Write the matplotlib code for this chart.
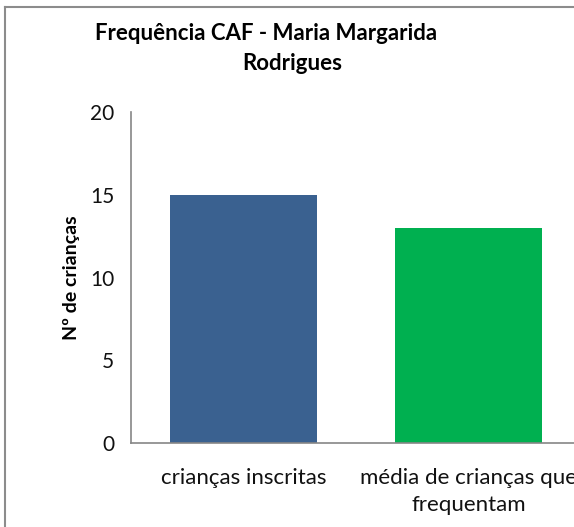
import matplotlib.pyplot as plt
from matplotlib.lines import Line2D

# data
categories = ['crianças inscritas', 'média de crianças que\nfrequentam']
values = [15, 13]
colors = ['#3A6190', '#00B050']
y_ticks = [0, 5, 10, 15, 20]

plt.rcParams['font.family'] = ['Lato', 'DejaVu Sans']

W, H = 574, 527
fig = plt.figure(figsize=(W / 100, H / 100), dpi=100, facecolor='white')

# chart border: only top and left edges are visible in the original
bx, by = 5 / W, 1 - 6.5 / H
fig.lines.append(Line2D([bx, 1.0], [by, by], transform=fig.transFigure,
                        color='#8C8C8C', linewidth=1.5))
fig.lines.append(Line2D([bx, bx], [0, by], transform=fig.transFigure,
                        color='#8C8C8C', linewidth=1.5))

ax = fig.add_axes([131 / W, (H - 443) / H, 450 / W, (443 - 112) / H])
ax.bar(range(len(values)), values, width=0.65, color=colors)
ax.set_xlim(-0.5, 1.5)
ax.set_ylim(0, 20)
ax.set_yticks(y_ticks)
ax.set_xticks(range(len(categories)))
ax.set_xticklabels(categories, fontsize=16, linespacing=1.45)
ax.tick_params(axis='y', length=0, labelsize=15, colors='#111111', pad=12)
ax.tick_params(axis='x', length=0, colors='#111111', pad=18)
for s in ['top', 'right']:
    ax.spines[s].set_visible(False)
for s in ['left', 'bottom']:
    ax.spines[s].set_color('#868686')
    ax.spines[s].set_linewidth(1.2)
ax.set_ylabel('Nº de crianças', fontsize=14, fontweight='bold', labelpad=7)

fig.text(266 / W, 1 - 33 / H, 'Frequência CAF - Maria Margarida',
         ha='center', va='center', fontsize=16, fontweight='bold')
fig.text(292 / W, 1 - 63 / H, 'Rodrigues',
         ha='center', va='center', fontsize=16, fontweight='bold')

fig.savefig('out.png', dpi=100)
